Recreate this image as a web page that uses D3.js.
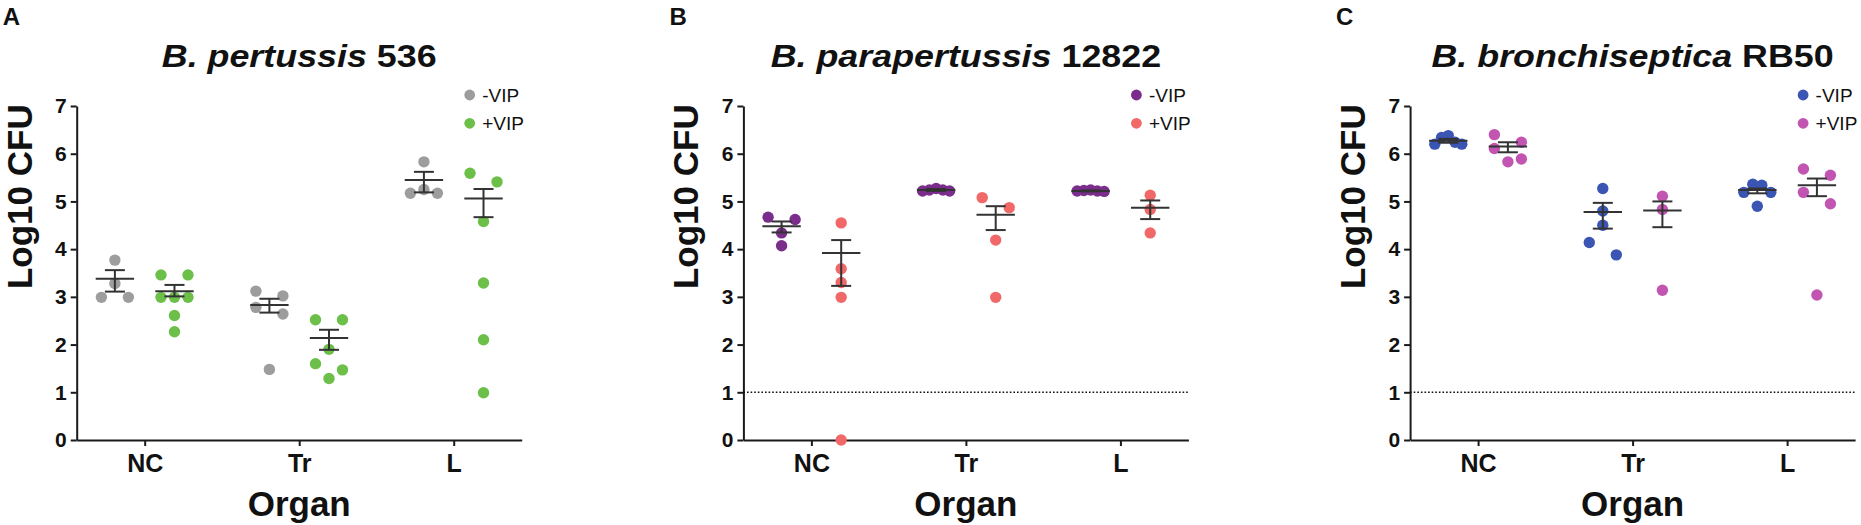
<!doctype html>
<html lang="en">
<head>
<meta charset="utf-8">
<title>Bordetella colonisation, Log10 CFU</title>
<script src="https://d3js.org/d3.v7.min.js"></script>
<style>
  body { margin: 0; background: #fff; }
  svg text { font-family: "Liberation Sans", Arial, Helvetica, sans-serif; fill: #111; }
  .axis path, .axis line { stroke: #1a1a1a; stroke-width: 2; }
  .axis text { font-weight: bold; }
  .err line { stroke: #333; stroke-width: 2; }
</style>
</head>
<body>
<svg width="1861" height="525"></svg>
<script>
var organs = ['NC', 'Tr', 'L'];
var groups = ['-VIP', '+VIP'];
var yTicks = [0, 1, 2, 3, 4, 5, 6, 7];
var panelLetters = ['A', 'B', 'C'];
var speciesNames = ['B. pertussis', 'B. parapertussis', 'B. bronchiseptica'];
var strainNames = ['536', '12822', 'RB50'];
var detectionLimit = [null, 1, 1];

// individual animals, per organ: [-VIP values, +VIP values]
var pertussisPts = [
  [[3.77, 3.28, 2.99, 2.99], [3.46, 3.46, 2.99, 2.99, 2.99, 2.61, 2.27]],
  [[3.12, 3.02, 2.78, 2.64, 1.48], [2.52, 2.52, 1.90, 1.60, 1.47, 1.29]],
  [[5.83, 5.25, 5.17, 5.17], [5.59, 5.41, 4.58, 3.29, 2.10, 0.99]]
];
var pertussisMean = [[3.38, 3.12], [2.83, 2.14], [5.45, 5.06]];
var pertussisLo = [[3.11, 3.01], [2.67, 1.89], [5.19, 4.67]];
var pertussisHi = [[3.56, 3.25], [2.96, 2.31], [5.62, 5.26]];

var paraPts = [
  [[4.67, 4.62, 4.34, 4.07], [4.55, 3.59, 3.30, 2.99, 0]],
  [[5.27, 5.24, 5.24, 5.22, 5.22], [5.08, 4.87, 4.19, 2.99]],
  [[5.24, 5.23, 5.22, 5.22, 5.21], [5.13, 4.83, 4.34]]
];
var paraMean = [[4.48, 3.92], [5.24, 4.72], [5.22, 4.87]];
var paraLo = [[4.35, 3.23], [5.22, 4.40], [5.21, 4.63]];
var paraHi = [[4.58, 4.19], [5.26, 4.90], [5.23, 5.02]];

var bronchiPts = [
  [[6.38, 6.34, 6.24, 6.20, 6.20], [6.40, 6.24, 6.11, 5.89, 5.83]],
  [[5.27, 4.80, 4.50, 4.14, 3.88], [5.11, 4.83, 3.14]],
  [[5.36, 5.34, 5.19, 5.19, 4.90], [5.68, 5.55, 5.19, 4.95, 3.04]]
];
var bronchiMean = [[6.27, 6.15], [4.78, 4.81], [5.24, 5.34]];
var bronchiLo = [[6.23, 6.03], [4.43, 4.46], [5.17, 5.11]];
var bronchiHi = [[6.31, 6.24], [4.97, 5.00], [5.27, 5.48]];

var pertussisColors = ['#9d9d9d', '#6cc04a'];
var paraColors = ['#7b2d8b', '#f06868'];
var bronchiColors = ['#3a55b2', '#c254b2'];

var panels = [
  { pts: pertussisPts, mean: pertussisMean, lo: pertussisLo, hi: pertussisHi, colors: pertussisColors },
  { pts: paraPts, mean: paraMean, lo: paraLo, hi: paraHi, colors: paraColors },
  { pts: bronchiPts, mean: bronchiMean, lo: bronchiLo, hi: bronchiHi, colors: bronchiColors }
];

var svg = d3.select('svg');

var plotW = 445;
var y = d3.scaleLinear().domain([0, 7]).range([440, 106]);
var x = d3.scalePoint().domain(organs).range([0, plotW]).padding(0.44);
var xSub = d3.scalePoint().domain(groups).range([-29.8, 29.8]);

// prism-like scatter: values that nearly tie share a row spread over +/- half
function swarm(vals) {
  var spread = 13.5, tie = 0.265;
  var rows = [];
  vals.slice().sort(d3.descending).forEach(function(v) {
    var r = rows[rows.length - 1];
    if (r && r[0] - v < tie) r.push(v); else rows.push([v]);
  });
  var out = [];
  rows.forEach(function(r) {
    var n = r.length;
    var slots = d3.range(n).map(function(i) { return n === 1 ? 0 : -spread + 2 * spread * i / (n - 1); });
    slots.sort(function(a, b) { return Math.abs(a) - Math.abs(b) || a - b; });
    r.forEach(function(v, i) { out.push({ v: v, dx: slots[i] }); });
  });
  return out;
}

panels.forEach(function(p, i) {
  var g = svg.append('g').attr('transform', 'translate(' + (76.7 + i * 666.7) + ',0)');

  // axes
  g.append('g').attr('class', 'axis')
    .call(d3.axisLeft(y).tickValues(yTicks).tickFormat(d3.format('d')).tickSize(6).tickSizeOuter(0).tickPadding(4))
    .selectAll('text').attr('font-size', 21);

  var xa = g.append('g').attr('class', 'axis').attr('transform', 'translate(0,' + y(0) + ')')
    .call(d3.axisBottom(x).tickSize(6).tickSizeOuter(0));
  xa.selectAll('text').attr('font-size', 25).attr('y', 31.7).attr('dy', 0);

  if (detectionLimit[i] !== null) {
    g.append('line')
      .attr('x1', 0).attr('x2', plotW)
      .attr('y1', y(detectionLimit[i])).attr('y2', y(detectionLimit[i]))
      .attr('stroke', '#111').attr('stroke-width', 1.6).attr('stroke-dasharray', '1.6,2');
  }

  // dots
  var dots = [];
  organs.forEach(function(o, oi) {
    groups.forEach(function(grp, gi) {
      swarm(p.pts[oi][gi]).forEach(function(d) {
        dots.push({ organ: o, group: grp, gi: gi, v: d.v, dx: d.dx });
      });
    });
  });
  g.append('g').selectAll('circle').data(dots).enter().append('circle')
    .attr('cx', function(d) { return x(d.organ) + xSub(d.group) + d.dx; })
    .attr('cy', function(d) { return y(d.v); })
    .attr('r', 5.7)
    .attr('fill', function(d) { return p.colors[d.gi]; });

  // mean +/- SEM
  var bars = [];
  organs.forEach(function(o, oi) {
    groups.forEach(function(grp, gi) {
      bars.push({ cx: x(o) + xSub(grp), m: p.mean[oi][gi], lo: p.lo[oi][gi], hi: p.hi[oi][gi] });
    });
  });
  var eb = g.append('g').attr('class', 'err').selectAll('g').data(bars).enter().append('g');
  eb.append('line')
    .attr('x1', function(d) { return d.cx - 19.2; }).attr('x2', function(d) { return d.cx + 19.2; })
    .attr('y1', function(d) { return y(d.m); }).attr('y2', function(d) { return y(d.m); });
  eb.append('line')
    .attr('x1', function(d) { return d.cx; }).attr('x2', function(d) { return d.cx; })
    .attr('y1', function(d) { return y(d.lo); }).attr('y2', function(d) { return y(d.hi); });
  eb.append('line')
    .attr('x1', function(d) { return d.cx - 10; }).attr('x2', function(d) { return d.cx + 10; })
    .attr('y1', function(d) { return y(d.hi); }).attr('y2', function(d) { return y(d.hi); });
  eb.append('line')
    .attr('x1', function(d) { return d.cx - 10; }).attr('x2', function(d) { return d.cx + 10; })
    .attr('y1', function(d) { return y(d.lo); }).attr('y2', function(d) { return y(d.lo); });

  // legend
  var lg = g.append('g').selectAll('g').data(groups).enter().append('g')
    .attr('transform', function(d, k) { return 'translate(393,' + (95 + k * 28.3) + ')'; });
  lg.append('circle').attr('r', 5.4).attr('fill', function(d, k) { return p.colors[k]; });
  lg.append('text').attr('x', 12.5).attr('y', 6.8).attr('font-size', 19).text(function(d) { return d; });

  // titles and labels
  g.append('text').attr('x', -74).attr('y', 25).attr('font-size', 24).attr('font-weight', 'bold')
    .text(panelLetters[i]);

  var t = g.append('text')
    .attr('transform', 'translate(' + x('Tr') + ',67) scale(1.12,1)')
    .attr('text-anchor', 'middle')
    .attr('font-size', 32).attr('font-weight', 'bold');
  t.append('tspan').attr('font-style', 'italic').text(speciesNames[i]);
  t.append('tspan').text(' ' + strainNames[i]);

  g.append('text').attr('transform', 'translate(-45,196.7) rotate(-90)')
    .attr('text-anchor', 'middle').attr('font-size', 35).attr('font-weight', 'bold')
    .text('Log10 CFU');

  g.append('text').attr('x', x('Tr')).attr('y', 516).attr('text-anchor', 'middle')
    .attr('font-size', 35).attr('font-weight', 'bold').text('Organ');
});
</script>
</body>
</html>
